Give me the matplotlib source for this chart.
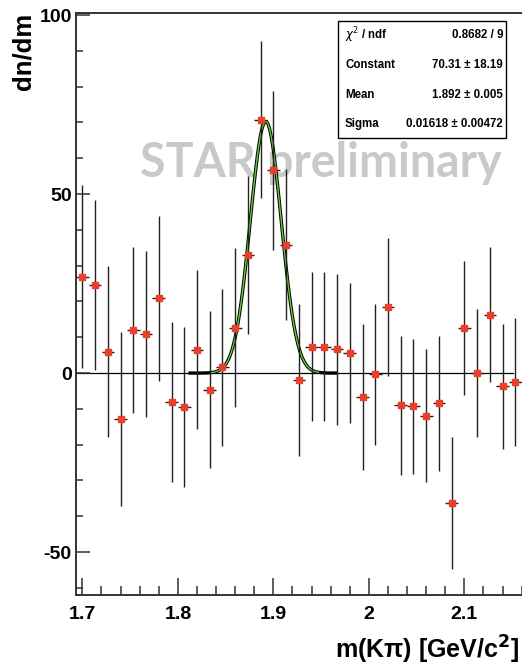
import numpy as np
import matplotlib
matplotlib.use("Agg")
import matplotlib.pyplot as plt
from matplotlib.ticker import MultipleLocator, FixedLocator, FuncFormatter

# Background-subtracted K-pi invariant mass spectrum (bin centres in GeV/c^2)
mass = [1.7000, 1.7133, 1.7267, 1.7400, 1.7533, 1.7667, 1.7800, 1.7933,
        1.8067, 1.8200, 1.8333, 1.8467, 1.8600, 1.8733, 1.8867, 1.9000,
        1.9133, 1.9267, 1.9400, 1.9533, 1.9667, 1.9800, 1.9933, 2.0067,
        2.0200, 2.0333, 2.0467, 2.0600, 2.0733, 2.0867, 2.1000, 2.1133,
        2.1267, 2.1400, 2.1533]
bin_width = 1.0 / 75.0

counts = [26.9, 24.6, 6.0, -12.8, 12.0, 10.9, 20.9, -8.1,
          -9.4, 6.5, -4.6, 1.6, 12.6, 33.0, 70.8, 56.6,
          35.8, -2.0, 7.4, 7.4, 6.6, 5.6, -6.7, -0.4,
          18.5, -9.0, -9.3, -11.9, -8.5, -36.3, 12.6, 0.0,
          16.3, -3.7, -2.5]
errors = [25.5, 23.7, 24.0, 24.3, 23.1, 23.2, 23.1, 22.4,
          22.4, 22.2, 21.8, 22.0, 22.2, 22.0, 21.9, 22.1,
          21.1, 21.3, 20.7, 20.7, 21.0, 19.5, 20.4, 19.6,
          19.2, 19.4, 18.9, 18.5, 18.9, 18.3, 18.6, 17.8,
          18.9, 17.4, 18.0]

# Gaussian fit result
fit_const, fit_const_err = 70.31, 18.19
fit_mean, fit_mean_err = 1.892, 0.005
fit_sigma, fit_sigma_err = 0.01618, 0.00472
chi2, ndf = 0.8682, 9
fit_range = (1.811, 1.967)
fit_core_range = (1.835, 1.947)

x_ticks = [1.7, 1.8, 1.9, 2.0, 2.1]
y_ticks = [-50, 0, 50, 100]

plt.rcParams["font.family"] = ["Liberation Sans", "DejaVu Sans"]
plt.rcParams["axes.unicode_minus"] = False

fig = plt.figure(figsize=(5.22, 6.65), dpi=100)
ax = fig.add_axes([76 / 522, 1 - 595 / 665, 446 / 522, (595 - 13.3) / 665])

xmin = 1.6933
ax.set_xlim(xmin, xmin + 446 / 955)
ax.set_ylim(-62.0, 100.5)

# watermark
ax.text(0.143, 0.7186, "STAR preliminary", transform=ax.transAxes,
        fontsize=33.5, fontweight="bold", color="#c9c9cc",
        family=["Lato", "DejaVu Sans"], ha="left", va="baseline", zorder=0)

# zero line
ax.plot([xmin, 2.151], [0, 0], color="black", lw=0.9, zorder=1)


def gauss(x):
    return fit_const * np.exp(-0.5 * ((x - fit_mean) / fit_sigma) ** 2)


xf = np.linspace(fit_range[0], fit_range[1], 100)
ax.plot(xf, gauss(xf), color="black", lw=2.4, zorder=2, solid_capstyle="butt")
xc = np.linspace(fit_core_range[0], fit_core_range[1], 80)
ax.plot(xc, gauss(xc), color="#66cc33", lw=1.0, zorder=3)

ax.errorbar(mass, counts, yerr=errors, xerr=bin_width / 2, fmt="s",
            color="black", ecolor="#222222", elinewidth=1.0, capsize=0,
            markersize=4.8, markerfacecolor="#e8402a", markeredgecolor="#e8402a",
            zorder=4)

# frame
ax.spines["right"].set_visible(False)
for side in ("left", "bottom", "top"):
    ax.spines[side].set_linewidth(1.4)
    ax.spines[side].set_color("#333333")

ax.xaxis.set_major_locator(FixedLocator(x_ticks))
ax.xaxis.set_minor_locator(MultipleLocator(0.02))
ax.yaxis.set_major_locator(FixedLocator(y_ticks))
ax.yaxis.set_minor_locator(MultipleLocator(10))
ax.xaxis.set_major_formatter(FuncFormatter(lambda v, p: f"{v:g}"))
ax.yaxis.set_major_formatter(FuncFormatter(lambda v, p: f"{v:g}"))

ax.tick_params(axis="x", which="major", direction="in", length=12, width=1.1,
               labelsize=14, pad=8, top=False, color="#333333")
ax.tick_params(axis="x", which="minor", direction="in", length=6.5, width=1.1,
               top=False, color="#333333")
ax.tick_params(axis="y", which="major", direction="in", length=10, width=1.1,
               labelsize=14, pad=3, right=False, color="#333333")
ax.tick_params(axis="y", which="minor", direction="in", length=5, width=1.1,
               right=False, color="#333333")
for lab in ax.get_xticklabels() + ax.get_yticklabels():
    lab.set_fontweight("bold")

fig.text(519 / 522, 1 - 659 / 665, "m(K\u03c0) [GeV/c$^{\\mathbf{2}}$]",
         fontsize=18, fontweight="bold", ha="right", va="baseline")
fig.text(36 / 522, 1 - 13 / 665, "dn/dm", fontsize=18.5, fontweight="bold",
         rotation=90, ha="right", va="top")

# fit statistics box
bx0, by0, bx1, by1 = 337.7, 20.7, 506, 137.7
box = plt.Rectangle((bx0 / 522, 1 - by1 / 665), (bx1 - bx0) / 522, (by1 - by0) / 665,
                    transform=fig.transFigure, facecolor="white",
                    edgecolor="black", lw=1.0, zorder=5)
fig.patches.append(box)
rows = [
    (r"$\chi^2$ / ndf", f"{chi2:.4f} / {ndf}"),
    ("Constant", f"{fit_const:.2f} \u00b1 {fit_const_err:.2f}"),
    ("Mean", f"{fit_mean:.3f} \u00b1 {fit_mean_err:.3f}"),
    ("Sigma", f"{fit_sigma:.5f} \u00b1 {fit_sigma_err:.5f}"),
]
row_y = [35, 65, 95, 124]
for (name, val), yy in zip(rows, row_y):
    fig.text(345 / 522, 1 - yy / 665, name, fontsize=8.3, fontweight="bold",
             ha="left", va="center", zorder=6)
    fig.text(503 / 522, 1 - yy / 665, val, fontsize=8.3, fontweight="bold",
             ha="right", va="center", zorder=6)

fig.savefig("out.png", dpi=100)
